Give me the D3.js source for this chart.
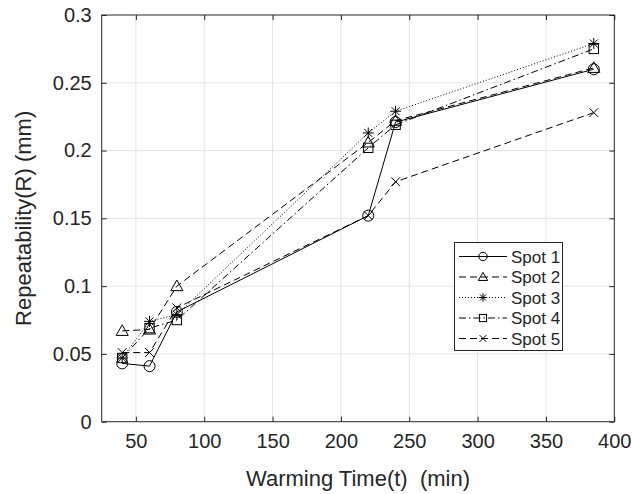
<!DOCTYPE html>
<html>
<head>
<meta charset="utf-8">
<script src="https://cdn.jsdelivr.net/npm/d3@7"></script>
<style>
  html, body { margin: 0; padding: 0; background: #fff; }
  svg { display: block; }
  text { font-family: "Liberation Sans", Arial, Helvetica, sans-serif; fill: #262626; white-space: pre; }
</style>
</head>
<body>
<svg id="chart" width="632" height="494"></svg>
<script>
// ---- data ----
const times = [40, 60, 80, 220, 240, 385];
const spot1 = [0.043, 0.041, 0.081, 0.152, 0.221, 0.260];
const spot2 = [0.067, 0.068, 0.100, 0.206, 0.222, 0.261];
const spot3 = [0.047, 0.074, 0.079, 0.213, 0.229, 0.279];
const spot4 = [0.047, 0.069, 0.075, 0.202, 0.219, 0.275];
const spot5 = [0.051, 0.051, 0.084, 0.152, 0.177, 0.228];
const seriesNames = ["Spot 1", "Spot 2", "Spot 3", "Spot 4", "Spot 5"];
const xTicks = [50, 100, 150, 200, 250, 300, 350, 400];
const yTicks = [0, 0.05, 0.1, 0.15, 0.2, 0.25, 0.3];
const yTickLabels = ["0", "0.05", "0.1", "0.15", "0.2", "0.25", "0.3"];

const series = [
  { name: seriesNames[0], values: spot1, dash: null, marker: "circle" },
  { name: seriesNames[1], values: spot2, dash: "7,4", marker: "triangle" },
  { name: seriesNames[2], values: spot3, dash: "1,2", marker: "star" },
  { name: seriesNames[3], values: spot4, dash: "7,3,1.5,3", marker: "square" },
  { name: seriesNames[4], values: spot5, dash: "7,4", marker: "x" }
];

const svg = d3.select("#chart");
const L = 101.7, R = 614.3, T = 15, B = 421.7;
const x = d3.scaleLinear().domain([25, 400]).range([L, R]);
const y = d3.scaleLinear().domain([0, 0.3]).range([B, T]);
const axisColor = "#262626";
const gridColor = "#e3e3e3";

// grid
const grid = svg.append("g");
grid.selectAll(".gx").data(xTicks.filter(d => d < 400)).enter().append("line")
  .attr("x1", d => x(d)).attr("x2", d => x(d)).attr("y1", T).attr("y2", B)
  .attr("stroke", gridColor).attr("stroke-width", 1);
grid.selectAll(".gy").data(yTicks.filter(d => d > 0 && d < 0.3)).enter().append("line")
  .attr("y1", d => y(d)).attr("y2", d => y(d)).attr("x1", L).attr("x2", R)
  .attr("stroke", gridColor).attr("stroke-width", 1);

// axes (inward ticks) via d3 axes
const tickLen = 5;
const xAxisB = d3.axisBottom(x).tickValues(xTicks).tickSize(-tickLen).tickPadding(12).tickFormat(d3.format("d"));
const xAxisT = d3.axisTop(x).tickValues(xTicks).tickSize(-tickLen).tickFormat("");
const yAxisL = d3.axisLeft(y).tickValues(yTicks).tickSize(-tickLen).tickPadding(10)
  .tickFormat((d, i) => yTickLabels[i]);
const yAxisR = d3.axisRight(y).tickValues(yTicks).tickSize(-tickLen).tickFormat("");

function styleAxis(g) {
  g.select(".domain").attr("stroke", axisColor).attr("stroke-width", 1);
  g.selectAll(".tick line").attr("stroke", axisColor).attr("stroke-width", 1);
  g.selectAll(".tick text").attr("fill", axisColor)
    .style("font-family", '"Liberation Sans", Arial, sans-serif').style("font-size", "20px");
}
svg.append("g").attr("transform", `translate(0,${B})`).call(xAxisB).call(styleAxis);
svg.append("g").attr("transform", `translate(0,${T})`).call(xAxisT).call(styleAxis);
svg.append("g").attr("transform", `translate(${L},0)`).call(yAxisL).call(styleAxis);
svg.append("g").attr("transform", `translate(${R},0)`).call(yAxisR).call(styleAxis);
svg.selectAll(".domain").attr("d", null);
// draw box
svg.append("rect").attr("x", L).attr("y", T).attr("width", R - L).attr("height", B - T)
  .attr("fill", "none").attr("stroke", axisColor).attr("stroke-width", 1);

// axis labels
svg.append("text").attr("x", (L + R) / 2).attr("y", 486).attr("text-anchor", "middle")
  .attr("xml:space", "preserve")
  .style("font-size", "22px").text("Warming Time(t)  (min)");
svg.append("text").attr("transform", `translate(31,${(T + B) / 2}) rotate(-90)`)
  .attr("text-anchor", "middle").style("font-size", "22px").text("Repeatability(R) (mm)");

// marker drawing
function drawMarker(g, type, cx, cy, s) {
  const st = { stroke: "#000", "stroke-width": 1, fill: "none" };
  let el;
  if (type === "circle") {
    el = g.append("circle").attr("cx", cx).attr("cy", cy).attr("r", s);
  } else if (type === "triangle") {
    const h = s * 1.1;
    el = g.append("path").attr("d", `M${cx},${cy - h} L${cx + h},${cy + h * 0.75} L${cx - h},${cy + h * 0.75} Z`);
  } else if (type === "square") {
    const a = s * 0.85;
    el = g.append("rect").attr("x", cx - a).attr("y", cy - a).attr("width", 2 * a).attr("height", 2 * a);
  } else if (type === "x") {
    const a = s * 0.8;
    el = g.append("path").attr("d", `M${cx - a},${cy - a}L${cx + a},${cy + a}M${cx - a},${cy + a}L${cx + a},${cy - a}`);
  } else if (type === "star") {
    const a = s, b = s * 0.72;
    el = g.append("path").attr("d",
      `M${cx - a},${cy}L${cx + a},${cy}M${cx},${cy - a}L${cx},${cy + a}` +
      `M${cx - b},${cy - b}L${cx + b},${cy + b}M${cx - b},${cy + b}L${cx + b},${cy - b}`);
  }
  Object.entries(st).forEach(([k, v]) => el.attr(k, v));
}

const line = d3.line().x(d => x(d[0])).y(d => y(d[1]));
const plot = svg.append("g");
series.forEach(s => {
  const pts = times.map((t, i) => [t, s.values[i]]);
  plot.append("path").datum(pts).attr("d", line)
    .attr("fill", "none").attr("stroke", "#000").attr("stroke-width", 1)
    .attr("stroke-dasharray", s.dash);
  const mg = plot.append("g");
  pts.forEach(p => drawMarker(mg, s.marker, x(p[0]), y(p[1]), 5.5));
});

// legend
const lg = svg.append("g");
const lx = 454.5, ly = 242.5, lw = 108, lh = 108;
lg.append("rect").attr("x", lx).attr("y", ly).attr("width", lw).attr("height", lh)
  .attr("fill", "#fff").attr("stroke", axisColor).attr("stroke-width", 1);
series.forEach((s, i) => {
  const cy = 256.5 + i * 20.5;
  lg.append("line").attr("x1", 459).attr("x2", 507).attr("y1", cy).attr("y2", cy)
    .attr("stroke", "#000").attr("stroke-width", 1).attr("stroke-dasharray", s.dash);
  drawMarker(lg, s.marker, 483, cy, 4.2);
  lg.append("text").attr("x", 511).attr("y", cy + 6).style("font-size", "17px").text(s.name);
});
</script>
</body>
</html>
